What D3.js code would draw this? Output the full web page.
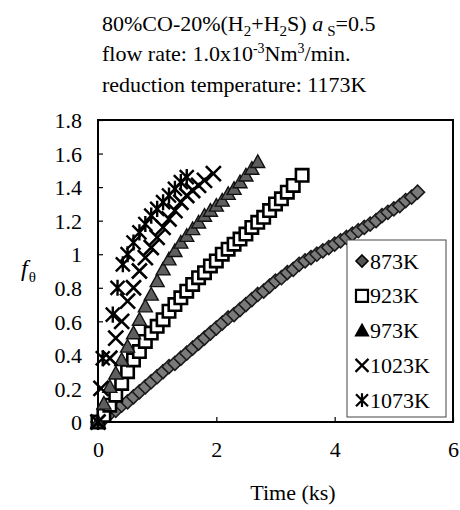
<!DOCTYPE html>
<html>
<head>
<meta charset="utf-8">
<script src="https://cdn.jsdelivr.net/npm/d3@7"></script>
<style>
  body { margin: 0; background: #fff; }
  svg, svg text { font-family: "Liberation Serif", "DejaVu Serif", serif !important; fill: #000; }
</style>
</head>
<body>
<svg></svg>
<script>
// tick labels
const xTicks = [0, 2, 4, 6];
const yTicks = [0, 0.2, 0.4, 0.6, 0.8, 1, 1.2, 1.4, 1.6, 1.8];
const names = ['873K', '923K', '973K', '1023K', '1073K'];

// 873K (diamonds)
const t873 = [0, 0.1, 0.2, 0.3, 0.4, 0.5, 0.6, 0.7, 0.8, 0.9, 1.0, 1.1, 1.2, 1.3, 1.4, 1.5, 1.6, 1.7, 1.8, 1.9,
  2.0, 2.1, 2.2, 2.3, 2.4, 2.5, 2.6, 2.7, 2.8, 2.9, 3.0, 3.1, 3.2, 3.3, 3.4, 3.5, 3.6, 3.7, 3.8, 3.9,
  4.0, 4.1, 4.2, 4.3, 4.4, 4.5, 4.6, 4.7, 4.8, 4.9, 5.0, 5.1, 5.2, 5.3, 5.4];
const f873 = [0, 0.02, 0.05, 0.07, 0.10, 0.12, 0.15, 0.18, 0.21, 0.24, 0.27, 0.30, 0.33, 0.35, 0.38, 0.41, 0.44, 0.47, 0.50, 0.53,
  0.56, 0.59, 0.62, 0.64, 0.67, 0.70, 0.73, 0.76, 0.78, 0.81, 0.84, 0.86, 0.89, 0.91, 0.94, 0.96, 0.98, 1.00, 1.02, 1.04,
  1.06, 1.08, 1.10, 1.12, 1.14, 1.16, 1.18, 1.20, 1.23, 1.25, 1.27, 1.29, 1.32, 1.34, 1.37];

// 923K (squares)
const t923 = [0, 0.1, 0.2, 0.3, 0.4, 0.5, 0.6, 0.7, 0.8, 0.9, 1.0, 1.1, 1.2, 1.3, 1.4, 1.5, 1.6, 1.7, 1.8, 1.9,
  2.0, 2.1, 2.2, 2.3, 2.4, 2.5, 2.6, 2.7, 2.8, 2.9, 3.0, 3.1, 3.2, 3.3, 3.45];
const f923 = [0, 0.04, 0.10, 0.16, 0.23, 0.30, 0.37, 0.42, 0.48, 0.53, 0.57, 0.61, 0.66, 0.70, 0.74, 0.78, 0.82, 0.86, 0.89, 0.93,
  0.96, 1.00, 1.03, 1.06, 1.09, 1.12, 1.16, 1.19, 1.22, 1.26, 1.30, 1.33, 1.37, 1.41, 1.47];

// 973K (triangles)
const t973 = [0, 0.1, 0.2, 0.3, 0.4, 0.5, 0.6, 0.7, 0.8, 0.9, 1.0, 1.1, 1.2, 1.3, 1.4, 1.5, 1.6, 1.7, 1.8, 1.9,
  2.0, 2.1, 2.2, 2.3, 2.4, 2.5, 2.6, 2.7];
const f973 = [0, 0.11, 0.21, 0.29, 0.37, 0.45, 0.53, 0.61, 0.69, 0.76, 0.84, 0.91, 0.97, 1.02, 1.07, 1.11, 1.15, 1.19, 1.23, 1.26,
  1.29, 1.32, 1.36, 1.39, 1.43, 1.47, 1.51, 1.55];

// 1023K (crosses)
const t1023 = [0, 0.05, 0.2, 0.3, 0.4, 0.5, 0.6, 0.7, 0.8, 0.9, 1.0, 1.1, 1.2, 1.3, 1.4, 1.5, 1.6, 1.7, 1.8, 1.95];
const f1023 = [0, 0.20, 0.38, 0.50, 0.60, 0.72, 0.80, 0.90, 0.98, 1.04, 1.10, 1.16, 1.21, 1.26, 1.31, 1.35, 1.38, 1.41, 1.44, 1.48];

// 1073K (asterisks)
const t1073 = [0, 0.08, 0.25, 0.33, 0.42, 0.5, 0.6, 0.7, 0.8, 0.9, 1.0, 1.1, 1.2, 1.3, 1.4, 1.5];
const f1073 = [0, 0.38, 0.64, 0.80, 0.94, 1.00, 1.07, 1.13, 1.18, 1.23, 1.27, 1.31, 1.35, 1.39, 1.43, 1.46];

const w = 460, h = 510;
const svg = d3.select('svg').attr('width', w).attr('height', h);

const xSc = d3.scaleLinear().domain([0, 6]).range([98, 453]);
const ySc = d3.scaleLinear().domain([0, 1.8]).range([422, 120]);

// marker shapes, r = half size in px
const shapes = {
  diamond: r => `M0,${-r}L${r},0L0,${r}L${-r},0Z`,
  square: r => `M${-r},${-r}h${2 * r}v${2 * r}h${-2 * r}Z`,
  triangle: r => `M0,${-r}L${r},${r * 0.8}L${-r},${r * 0.8}Z`,
  cross: r => `M${-r},${-r}L${r},${r}M${r},${-r}L${-r},${r}`,
  star: r => `M${-r},${-r}L${r},${r}M${r},${-r}L${-r},${r}M0,${-r * 1.15}L0,${r * 1.15}`
};

const styles = [
  { shape: 'diamond', r: 7, fill: '#7a7a7a', stroke: '#1a1a1a', sw: 1.6, legR: 6, legFill: '#555' },
  { shape: 'square', r: 6.2, fill: '#fff', stroke: '#000', sw: 2.6, legR: 6, legFill: '#fff' },
  { shape: 'triangle', r: 7, fill: '#5e5e5e', stroke: '#111', sw: 1.4, legR: 6.5, legFill: '#000' },
  { shape: 'cross', r: 7.5, fill: 'none', stroke: '#000', sw: 2.6, legR: 6.5, legFill: 'none' },
  { shape: 'star', r: 7, fill: 'none', stroke: '#000', sw: 2.4, legR: 6, legFill: 'none' }
];

const data = [
  [t873, f873], [t923, f923], [t973, f973], [t1023, f1023], [t1073, f1073]
];

// title
const title = svg.append('g').style('font-size', '22px');
let t1 = title.append('text').attr('x', 102).attr('y', 31);
t1.append('tspan').text('80%CO-20%(H');
t1.append('tspan').attr('dy', 5).style('font-size', '15px').text('2');
t1.append('tspan').attr('dy', -5).text('+H');
t1.append('tspan').attr('dy', 5).style('font-size', '15px').text('2');
t1.append('tspan').attr('dy', -5).text('S) ');
t1.append('tspan').style('font-style', 'italic').text('a');
t1.append('tspan').attr('dx', 4).attr('dy', 5).style('font-size', '15px').text('S');
t1.append('tspan').attr('dy', -5).text('=0.5');

let t2 = title.append('text').attr('x', 102).attr('y', 61);
t2.append('tspan').text('flow rate: 1.0x10');
t2.append('tspan').attr('dy', -8).style('font-size', '14px').text('-3');
t2.append('tspan').attr('dy', 8).text('Nm');
t2.append('tspan').attr('dy', -8).style('font-size', '14px').text('3');
t2.append('tspan').attr('dy', 8).text('/min.');

title.append('text').attr('x', 102).attr('y', 92).text('reduction temperature: 1173K');

// axes
const yAxis = d3.axisLeft(ySc).tickValues(yTicks).tickSize(-5).tickPadding(16)
  .tickFormat(d3.format('~g'));
svg.append('g').attr('id', 'y-axis')
  .attr('transform', 'translate(98, 0)')
  .call(yAxis)
  .attr('font-family', null)
  .call(g => g.select('.domain').remove())
  .call(g => g.selectAll('text').style('font-size', '22px').attr('dy', '0.35em'))
  .call(g => g.selectAll('line').attr('stroke', '#000').attr('stroke-width', 1.2));

const xAxis = d3.axisBottom(xSc).tickValues(xTicks).tickSize(-5).tickPadding(19)
  .tickFormat(d3.format('d'));
svg.append('g').attr('id', 'x-axis')
  .attr('transform', 'translate(0, 422)')
  .call(xAxis)
  .attr('font-family', null)
  .call(g => g.select('.domain').remove())
  .call(g => g.selectAll('text').style('font-size', '22px'))
  .call(g => g.selectAll('line').attr('stroke', '#000').attr('stroke-width', 1.2));

svg.append('rect')
  .attr('x', xSc(0)).attr('y', ySc(1.8))
  .attr('width', xSc(6) - xSc(0)).attr('height', ySc(0) - ySc(1.8))
  .attr('fill', 'none').attr('stroke', '#000').attr('stroke-width', 2);

// axis titles
svg.append('text').attr('x', 293).attr('y', 500).attr('text-anchor', 'middle')
  .style('font-size', '22px').text('Time (ks)');
let yl = svg.append('text').attr('x', 21).attr('y', 276).style('font-size', '24px');
yl.append('tspan').style('font-style', 'italic').text('f');
yl.append('tspan').attr('dx', 1).attr('dy', 6).style('font-size', '15px').text('θ');

// points
data.forEach(([ts, fs], i) => {
  const st = styles[i];
  svg.append('g').attr('class', 'series-' + names[i])
    .selectAll('path')
    .data(ts.map((t, j) => ({ t: t, f: fs[j] })))
    .enter()
    .append('path')
    .attr('d', shapes[st.shape](st.r))
    .attr('transform', d => 'translate(' + xSc(d.t) + ',' + ySc(d.f) + ')')
    .attr('fill', st.fill)
    .attr('stroke', st.stroke)
    .attr('stroke-width', st.sw);
});

// legend
const leg = svg.append('g').attr('id', 'legend');
leg.append('rect').attr('x', 347).attr('y', 240).attr('width', 99).attr('height', 177)
  .attr('fill', '#fff').attr('stroke', '#444').attr('stroke-width', 1);
names.forEach((n, i) => {
  const st = styles[i];
  const cy = 261 + i * 34.8;
  leg.append('path')
    .attr('d', shapes[st.shape](st.legR))
    .attr('transform', 'translate(362,' + cy + ')')
    .attr('fill', st.legFill)
    .attr('stroke', '#000')
    .attr('stroke-width', Math.min(st.sw, 2.2));
  leg.append('text').attr('x', 370).attr('y', cy + 7.5)
    .style('font-size', '22px').text(n);
});
</script>
</body>
</html>
